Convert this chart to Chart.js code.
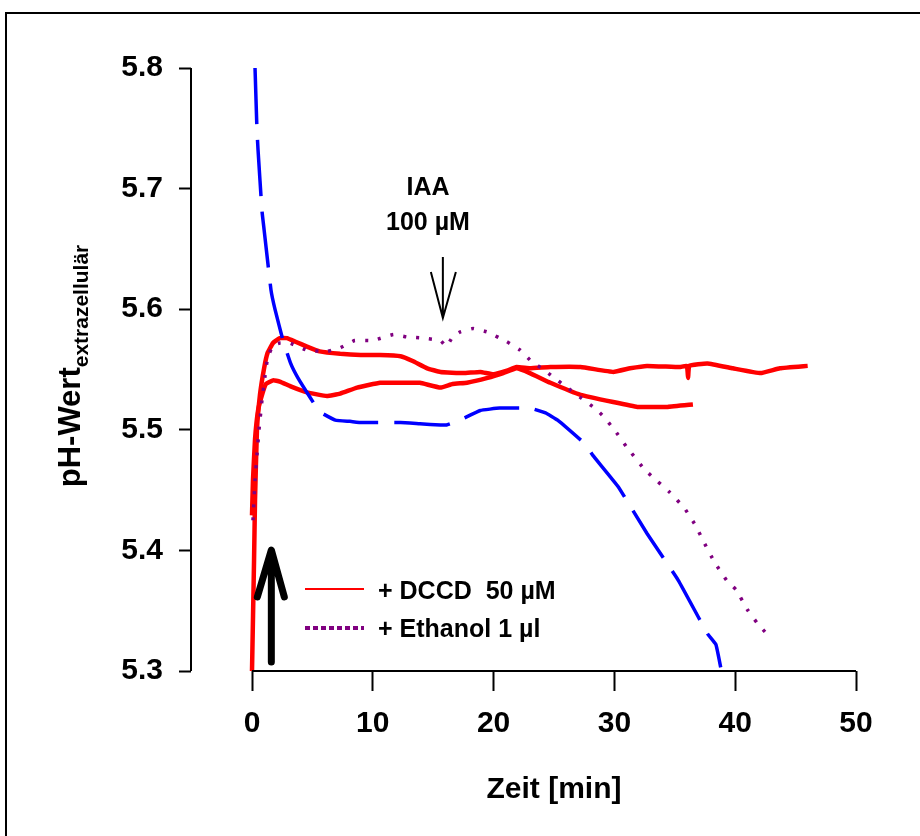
<!DOCTYPE html>
<html>
<head>
<meta charset="utf-8">
<script src="https://cdn.jsdelivr.net/npm/chart.js@4.4.1/dist/chart.umd.min.js"></script>
<style>
  body { margin: 0; background: #fff; }
  #wrap { width: 920px; height: 836px; position: relative; }
</style>
</head>
<body>
<div id="wrap"><canvas id="myChart"></canvas></div>
<script>
// axis ticks
const xTicks = [0, 10, 20, 30, 40, 50];
const yTicks = [5.3, 5.4, 5.5, 5.6, 5.7, 5.8];

// red trace 1 (+ DCCD 50 µM)
const redATime = [0.0, 0.17, 0.25, 0.41, 0.66, 1.0, 1.3, 1.74, 2.3, 2.9, 3.6, 4.55, 5.6, 7.3, 9.0, 10.6, 12.3, 13.3, 14.5, 15.6, 17.5, 18.9, 20.0, 21.1, 21.9, 23.0, 24.7, 27.2, 29.9, 31.3, 32.7, 35.4, 36.0, 36.1, 36.2, 37.7, 39.8, 42.1, 43.7, 46.0];
const redAPh   = [5.300, 5.392, 5.442, 5.500, 5.529, 5.551, 5.564, 5.572, 5.576, 5.576, 5.573, 5.569, 5.565, 5.563, 5.562, 5.562, 5.561, 5.557, 5.551, 5.548, 5.547, 5.548, 5.546, 5.549, 5.552, 5.551, 5.552, 5.552, 5.548, 5.551, 5.553, 5.552, 5.553, 5.543, 5.553, 5.555, 5.551, 5.547, 5.551, 5.553];

// red trace 2 (+ DCCD 50 µM)
const redBTime = [0.0, 0.08, 0.25, 0.5, 0.83, 1.16, 1.74, 2.3, 3.2, 4.55, 6.2, 7.3, 8.7, 10.6, 12.8, 13.9, 15.6, 16.6, 17.8, 19.5, 20.8, 21.9, 23.0, 24.7, 27.2, 29.9, 31.9, 34.4, 36.5];
const redBPh   = [5.429, 5.458, 5.492, 5.516, 5.529, 5.538, 5.541, 5.540, 5.536, 5.531, 5.528, 5.530, 5.535, 5.539, 5.539, 5.539, 5.535, 5.538, 5.539, 5.543, 5.547, 5.551, 5.547, 5.539, 5.529, 5.523, 5.519, 5.519, 5.521];

// purple trace (+ Ethanol 1 µl)
const ethTime = [0.08, 0.25, 0.41, 0.58, 0.83, 1.08, 1.3, 1.74, 2.3, 3.1, 4.55, 6.2, 7.3, 8.5, 10.0, 11.7, 12.8, 14.2, 15.6, 16.1, 16.6, 17.2, 18.3, 19.5, 21.1, 22.2, 23.2, 24.0, 24.9, 26.1, 27.3, 28.5, 29.1, 30.0, 31.0, 32.5, 33.6, 34.6, 35.8, 36.7, 37.4, 38.3, 39.3, 40.1, 41.0, 41.8, 42.6];
const ethPh   = [5.425, 5.458, 5.479, 5.500, 5.525, 5.545, 5.560, 5.570, 5.572, 5.572, 5.566, 5.565, 5.568, 5.574, 5.574, 5.579, 5.577, 5.576, 5.574, 5.569, 5.577, 5.581, 5.584, 5.581, 5.573, 5.566, 5.556, 5.551, 5.544, 5.535, 5.526, 5.517, 5.511, 5.500, 5.486, 5.467, 5.457, 5.448, 5.435, 5.421, 5.407, 5.390, 5.375, 5.367, 5.351, 5.340, 5.331];

// blue dashed trace
const blueTime = [0.25, 0.41, 0.5, 0.83, 1.0, 1.57, 1.9, 2.57, 3.2, 3.8, 4.8, 5.6, 6.9, 8.1, 9.1, 12.3, 13.9, 15.6, 16.1, 17.2, 18.9, 20.5, 23.0, 24.3, 25.3, 27.6, 28.2, 30.3, 32.7, 35.3, 37.7, 38.4, 38.8];
const bluePh   = [5.800, 5.749, 5.732, 5.681, 5.666, 5.616, 5.600, 5.574, 5.555, 5.543, 5.527, 5.515, 5.508, 5.507, 5.506, 5.506, 5.505, 5.504, 5.504, 5.508, 5.516, 5.518, 5.518, 5.514, 5.508, 5.488, 5.479, 5.453, 5.414, 5.375, 5.331, 5.322, 5.303];

function pts(xs, ys) { return xs.map((x, i) => ({ x: x, y: ys[i] })); }

const FONT = "'Liberation Sans', Arial, Helvetica, sans-serif";

const extras = {
  id: 'extras',
  afterDraw(chart) {
    const ctx = chart.ctx;
    const xs = chart.scales.x, ys = chart.scales.y;
    const area = chart.chartArea;
    ctx.save();
    ctx.strokeStyle = '#000';
    ctx.fillStyle = '#000';

    // outer frame
    ctx.lineWidth = 2;
    ctx.strokeRect(6, 13, 1000, 1000);

    // axis lines (tick to tick)
    ctx.beginPath();
    ctx.moveTo(area.left, ys.getPixelForValue(yTicks[yTicks.length - 1]));
    ctx.lineTo(area.left, ys.getPixelForValue(yTicks[0]));
    ctx.moveTo(xs.getPixelForValue(xTicks[0]), area.bottom);
    ctx.lineTo(xs.getPixelForValue(xTicks[xTicks.length - 1]), area.bottom);
    ctx.stroke();

    // x title
    ctx.font = 'bold 30px ' + FONT;
    ctx.textAlign = 'center';
    ctx.textBaseline = 'middle';
    ctx.fillText('Zeit [min]', (xs.getPixelForValue(0) + xs.getPixelForValue(50)) / 2, 790);

    // y title with subscript
    ctx.save();
    ctx.translate(80, 366);
    ctx.rotate(-Math.PI / 2);
    ctx.textAlign = 'left';
    ctx.textBaseline = 'alphabetic';
    ctx.font = 'bold 31px ' + FONT;
    const w1 = ctx.measureText('pH-Wert').width;
    ctx.font = 'bold 21px ' + FONT;
    const w2 = ctx.measureText('extrazellulär').width;
    const start = -(w1 + w2) / 2;
    ctx.font = 'bold 31px ' + FONT;
    ctx.fillText('pH-Wert', start, 0);
    ctx.font = 'bold 21px ' + FONT;
    ctx.fillText('extrazellulär', start + w1, 8);
    ctx.restore();

    // IAA annotation
    ctx.font = 'bold 25px ' + FONT;
    ctx.textAlign = 'center';
    ctx.fillText('IAA', 428, 188);
    ctx.fillText('100 µM', 428, 223);
    const ax = xs.getPixelForValue(15.8);
    ctx.lineWidth = 2;
    ctx.beginPath();
    ctx.moveTo(ax, 257); ctx.lineTo(ax, 318);
    ctx.moveTo(ax - 12, 272); ctx.lineTo(ax, 318); ctx.lineTo(ax + 13, 272);
    ctx.stroke();

    // big arrow (addition)
    const bx = xs.getPixelForValue(1.6);
    ctx.lineWidth = 7;
    ctx.lineCap = 'round';
    ctx.lineJoin = 'round';
    ctx.beginPath();
    ctx.moveTo(bx, 662); ctx.lineTo(bx, 551);
    ctx.moveTo(bx - 14, 597); ctx.lineTo(bx, 550); ctx.lineTo(bx + 13, 597);
    ctx.stroke();

    // legend
    ctx.lineCap = 'butt';
    ctx.strokeStyle = '#ff0000';
    ctx.lineWidth = 2;
    ctx.beginPath(); ctx.moveTo(305, 589); ctx.lineTo(364, 589); ctx.stroke();
    ctx.strokeStyle = '#800080';
    ctx.lineWidth = 4;
    ctx.setLineDash([5, 3]);
    ctx.beginPath(); ctx.moveTo(305, 628); ctx.lineTo(364, 628); ctx.stroke();
    ctx.setLineDash([]);
    ctx.fillStyle = '#000';
    ctx.textAlign = 'left';
    ctx.font = 'bold 25px ' + FONT;
    ctx.fillText('+ DCCD  50 µM', 378, 592);
    ctx.fillText('+ Ethanol 1 µl', 378, 630);

    ctx.restore();
  }
};

const ctx = document.getElementById('myChart').getContext('2d');
const myChart = new Chart(ctx, {
  type: 'line',
  data: {
    datasets: [
      { data: pts(blueTime, bluePh), borderColor: '#0000ff', borderWidth: 3.5, borderDash: [56, 16], clip: false },
      { data: pts(ethTime, ethPh), borderColor: '#800080', borderWidth: 3.5, borderDash: [3, 10], clip: false },
      { data: pts(redBTime, redBPh), borderColor: '#ff0000', borderWidth: 4.5, clip: false },
      { data: pts(redATime, redAPh), borderColor: '#ff0000', borderWidth: 4.5, clip: false }
    ]
  },
  options: {
    responsive: true,
    maintainAspectRatio: false,
    animation: false,
    layout: { padding: { top: 68, right: 64, left: 0, bottom: 0 } },
    elements: { point: { radius: 0 }, line: { tension: 0.1 } },
    plugins: { legend: { display: false }, tooltip: { enabled: false } },
    scales: {
      x: {
        type: 'linear',
        min: -5.05,
        max: 50,
        afterBuildTicks: s => { s.ticks = xTicks.map(v => ({ value: v })); },
        afterFit: s => { s.height = 165; },
        grid: { drawOnChartArea: false, drawTicks: true, tickLength: 20, tickWidth: 2, tickColor: '#000' },
        border: { display: false },
        ticks: { color: '#000', padding: 15, font: { family: FONT, size: 30, weight: 'bold' }, maxRotation: 0 }
      },
      y: {
        type: 'linear',
        min: 5.3,
        max: 5.8,
        afterBuildTicks: s => { s.ticks = yTicks.map(v => ({ value: v })); },
        afterFit: s => { s.width = 191; },
        grid: { drawOnChartArea: false, drawTicks: true, tickLength: 12, tickWidth: 2, tickColor: '#000' },
        border: { display: false },
        ticks: { color: '#000', padding: 16, font: { family: FONT, size: 30, weight: 'bold' }, callback: v => v.toFixed(1) }
      }
    }
  },
  plugins: [extras]
});
</script>
</body>
</html>
